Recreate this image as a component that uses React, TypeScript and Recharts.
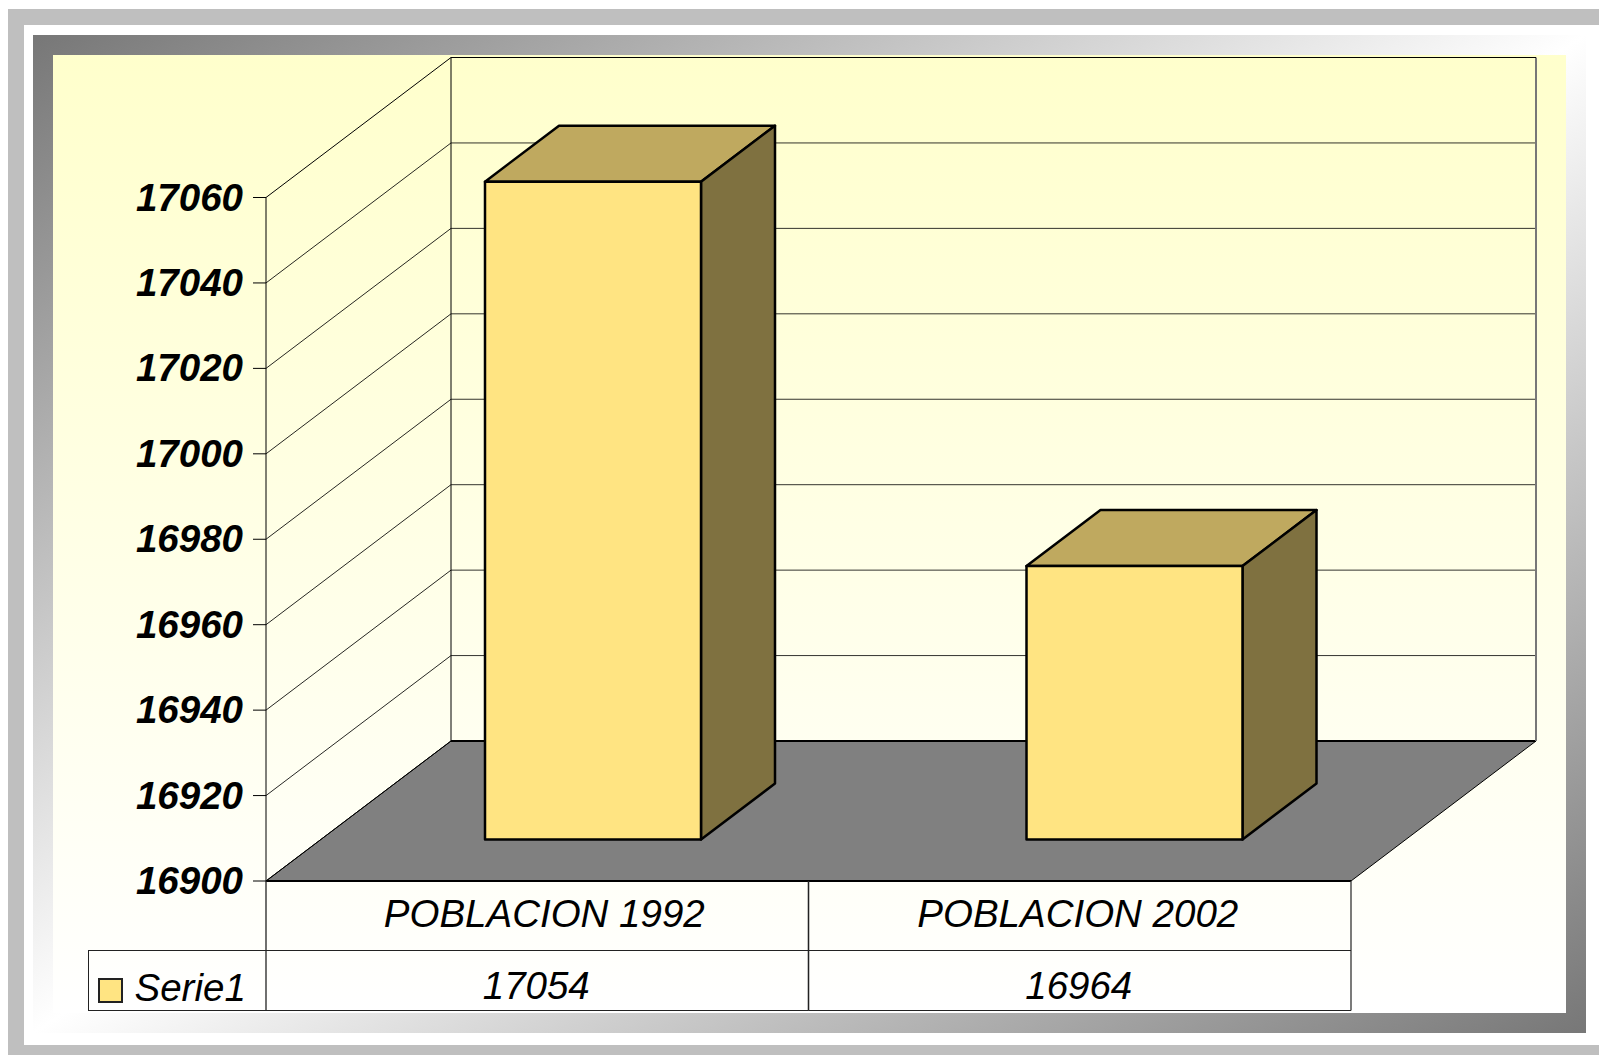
import { BarChart, Bar, XAxis, YAxis, CartesianGrid, Legend } from 'recharts';

const categories = ['POBLACION 1992', 'POBLACION 2002'];
const serie1 = [17054, 16964];
const yTicks = [16900, 16920, 16940, 16960, 16980, 17000, 17020, 17040, 17060];

const chartData = categories.map((name, i) => ({ name, Serie1: serie1[i] }));

const W = 1599;
const H = 1055;
const PLOT_LEFT = 266;
const PLOT_RIGHT = 1351;
const PLOT_TOP = 197.5;
const PLOT_BOTTOM = 881;
const TABLE_ROW = 950.5;
const TABLE_BOTTOM = 1010.5;
const LEGEND_LEFT = 87.5;
// wall depth of the fake 3d box
const WALL_DX = 185;
const WALL_DY = 140;
// where the bars stand on the floor, and how deep they are
const BAR_DX = 55;
const BAR_DY = 41.5;
const BOX_DX = 74;
const BOX_DY = 56;

const FONT = '"Liberation Sans", Arial, sans-serif';
const FONT_SIZE = 38.5;

const wallLine = (props: any) => {
  const { y1, index } = props;
  const bx = PLOT_LEFT + WALL_DX;
  const by = y1 - WALL_DY;
  const isFloor = Math.abs(y1 - PLOT_BOTTOM) < 1;
  const isTop = Math.abs(y1 - PLOT_TOP) < 1;
  return (
    <g key={`wall-${index}`}>
      {isFloor && (
        <>
          <polygon
            points={`${PLOT_LEFT},${y1} ${PLOT_RIGHT},${y1} ${PLOT_RIGHT + WALL_DX},${by} ${bx},${by}`}
            fill="#808080"
            stroke="#000"
            strokeWidth={1}
          />
          <line x1={PLOT_LEFT} y1={y1} x2={PLOT_RIGHT} y2={y1} stroke="#000" strokeWidth={2} />
        </>
      )}
      {isTop && (
        <>
          <line x1={bx} y1={by} x2={bx} y2={PLOT_BOTTOM - WALL_DY} stroke="#000" strokeWidth={1} />
          <line x1={PLOT_RIGHT + WALL_DX} y1={by} x2={PLOT_RIGHT + WALL_DX} y2={PLOT_BOTTOM - WALL_DY} stroke="#777" strokeWidth={2} />
        </>
      )}
      <line x1={PLOT_LEFT} y1={y1} x2={bx} y2={by} stroke="#000" strokeWidth={1} strokeOpacity={isTop || isFloor ? 1 : 0.85} />
      <line x1={bx} y1={by} x2={PLOT_RIGHT + WALL_DX} y2={by} stroke="#000" strokeWidth={isFloor ? 2 : 1} strokeOpacity={isTop || isFloor ? 1 : 0.8} />
    </g>
  );
};

const Bar3D = (props: any) => {
  const { x, y, width, height, index } = props;
  // the first bar sits a pixel further right than its band centre
  const l = x + BAR_DX + (index === 0 ? 1 : 0);
  const t = y - BAR_DY;
  const r = l + width;
  const b = t + height;
  return (
    <g stroke="#000" strokeWidth={2.5} strokeLinejoin="round">
      <polygon points={`${l},${t} ${r},${t} ${r + BOX_DX},${t - BOX_DY} ${l + BOX_DX},${t - BOX_DY}`} fill="#BFA95F" />
      <polygon points={`${r},${t} ${r + BOX_DX},${t - BOX_DY} ${r + BOX_DX},${b - BOX_DY} ${r},${b}`} fill="#7F7140" />
      <rect x={l} y={t} width={width} height={height} fill="#FFE482" />
    </g>
  );
};

const YTick = ({ y, payload }: any) => (
  <g>
    <line x1={253} y1={y} x2={PLOT_LEFT} y2={y} stroke="#000" />
    <text x={243} y={y + 13} textAnchor="end" fontFamily={FONT} fontSize={FONT_SIZE} fontWeight="bold" fontStyle="italic" fill="#000">
      {payload.value}
    </text>
  </g>
);

const XTick = ({ x, payload, index }: any) => {
  const half = (PLOT_RIGHT - PLOT_LEFT) / categories.length / 2;
  return (
    <g>
      <line x1={x - half} y1={PLOT_BOTTOM} x2={x - half} y2={TABLE_BOTTOM} stroke="#222" strokeWidth={1.3} />
      <line x1={x + half} y1={PLOT_BOTTOM} x2={x + half} y2={TABLE_BOTTOM} stroke="#333" strokeWidth={1.3} />
      <line x1={x - half} y1={TABLE_ROW} x2={x + half} y2={TABLE_ROW} stroke="#222" />
      <line x1={x - half} y1={TABLE_BOTTOM} x2={x + half} y2={TABLE_BOTTOM} stroke="#222" />
      <text x={x + (index === 0 ? 7 : -2)} y={927} textAnchor="middle" fontFamily={FONT} fontSize={FONT_SIZE} fontStyle="italic" fill="#000">
        {payload.value}
      </text>
      <text x={x - 1} y={999} textAnchor="middle" fontFamily={FONT} fontSize={FONT_SIZE} fontStyle="italic" fill="#000">
        {serie1[index]}
      </text>
    </g>
  );
};

const LegendCell = ({ payload }: any) => (
  <div style={{ position: 'relative', width: '100%', height: '100%', boxSizing: 'border-box', border: '1px solid #222', borderRight: 'none' }}>
    {(payload || []).map((p: any) => (
      <div key={p.value}>
        <span style={{ position: 'absolute', left: 9, top: 27, width: 25.5, height: 25, boxSizing: 'border-box', background: '#FFE482', border: '2px solid #222' }} />
        <span style={{ position: 'absolute', left: 46, top: 15, fontFamily: FONT, fontSize: FONT_SIZE, fontStyle: 'italic', color: '#000', lineHeight: '43px' }}>
          {p.value}
        </span>
      </div>
    ))}
  </div>
);

export default function App() {
  return (
    <div style={{ position: 'absolute', left: 0, top: 0, width: W, height: H, overflow: 'hidden', background: '#fff' }}>
      <div style={{ position: 'absolute', left: 8, top: 9, width: W, height: H, background: '#BFBFBF' }} />
      <div style={{ position: 'absolute', left: 24, top: 25, width: W, height: 1020, background: '#fff' }} />
      <div style={{ position: 'absolute', left: 33, top: 35, width: 1553, height: 998, background: 'linear-gradient(to bottom right, #777777, #ffffff 50%, #777777)' }} />
      <div style={{ position: 'absolute', left: 53, top: 55, width: 1513, height: 958, background: 'linear-gradient(to bottom, #FFFFCC, #FFFFFF)' }} />
      <div style={{ position: 'absolute', left: 0, top: 0 }}>
        <BarChart width={W} height={H} data={chartData} margin={{ top: PLOT_TOP, right: W - PLOT_RIGHT, bottom: 0, left: 0 }} barSize={216}>
          <CartesianGrid horizontal={wallLine} vertical={false} />
          <XAxis dataKey="name" height={H - PLOT_BOTTOM} axisLine={false} tickLine={false} interval={0} tick={XTick} />
          <YAxis width={PLOT_LEFT} domain={[16900, 17060]} ticks={yTicks} interval={0} axisLine={{ stroke: '#000' }} tickLine={false} tick={YTick} />
          <Legend
            layout="horizontal"
            align="center"
            verticalAlign="middle"
            content={LegendCell}
            wrapperStyle={{ left: LEGEND_LEFT, top: TABLE_ROW - 0.5, width: PLOT_LEFT - LEGEND_LEFT, height: TABLE_BOTTOM - TABLE_ROW + 1 }}
          />
          <Bar dataKey="Serie1" shape={Bar3D} isAnimationActive={false} />
        </BarChart>
      </div>
    </div>
  );
}
